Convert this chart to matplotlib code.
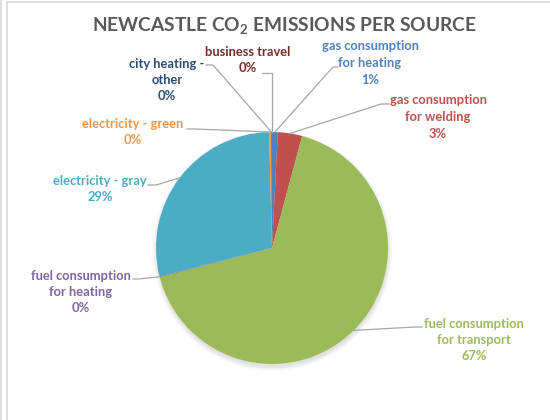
import numpy as np
import matplotlib
matplotlib.use("Agg")
import matplotlib.pyplot as plt
from matplotlib.patches import Circle

plt.rcParams['font.family'] = ['Lato', 'DejaVu Sans']
plt.rcParams['mathtext.fontset'] = 'custom'
plt.rcParams['mathtext.rm'] = 'Lato:bold'
plt.rcParams['mathtext.bf'] = 'Lato:bold'

# ---- data ----
categories = ["gas consumption\nfor heating", "gas consumption\nfor welding",
              "fuel consumption\nfor transport", "fuel consumption\nfor heating",
              "electricity - gray", "electricity - green",
              "city heating -\nother", "business travel"]
values = [0.8, 3.4, 66.9, 0.1, 28.6, 0.3, 0.05, 0.05]
colors = ["#4F81BD", "#C0504D", "#9BBB59", "#8064A2", "#4BACC6", "#F79646",
          "#2C4D75", "#772C2A"]
title = r"NEWCASTLE CO$_{\mathbf{2}}$ EMISSIONS PER SOURCE"

# ---- layout (pixel coords, origin top-left) ----
W, H = 550, 420
CX, CY, R = 272, 248, 116
label_pos = [(370, 63), (438, 117), (474, 340), (81, 292),
             (100, 189), (133, 132), (167, 80), (248, 60)]
# attachment point of leader near label (x, y) and length of short horizontal
leader_anchor = [(338, 67, -5), (389, 104, -8), (422, 327, -7), (133, 279, 5),
                 (148, 185, 8), (187, 129, 8), (206, 65, 7), (262, 73, 9)]

fig = plt.figure(figsize=(W / 100, H / 100), dpi=100)
ax = fig.add_axes([0, 0, 1, 1])
ax.set_xlim(0, W)
ax.set_ylim(0, H)
ax.axis('off')

def Y(y):
    return H - y

# frame lines
ax.plot([1, 1], [Y(0), Y(420)], color="#D9D9D9", lw=1.2)
ax.plot([7, 7], [Y(2), Y(420)], color="#D9D9D9", lw=1.2)
ax.plot([7, 550], [Y(2), Y(2)], color="#D9D9D9", lw=1.2)

# soft shadow
for i in range(10):
    ax.add_patch(Circle((CX + 0.5, Y(CY) - 3), R + 4 - i * 0.5,
                        facecolor="black", edgecolor="none", alpha=0.012, zorder=1))

wedges, _ = ax.pie(values, colors=colors, startangle=90, counterclock=False,
                   center=(CX, Y(CY)), radius=R, frame=False,
                   wedgeprops=dict(edgecolor="none", linewidth=0))
for w in wedges:
    w.set_zorder(3)
ax.set_xlim(0, W)
ax.set_ylim(0, H)
ax.set_aspect('auto')

total = sum(values)
for w, cat, val, col, (lx, ly), (ax_x, ax_y, dx) in zip(
        wedges, categories, values, colors, label_pos, leader_anchor):
    mid = np.deg2rad((w.theta1 + w.theta2) / 2)
    px = CX + R * np.cos(mid)
    py = Y(CY) + R * np.sin(mid)
    pct = f"{round(val / total * 100):d}%"
    ax.text(lx, Y(ly), f"{cat}\n{pct}", ha="center", va="center",
            color=col, fontsize=9.3, fontweight="bold", linespacing=1.45, zorder=5)
    xs = [ax_x, ax_x + dx, px]
    ys = [Y(ax_y), Y(ax_y), py]
    if cat == "business travel":
        xs = [ax_x, px, px]
    ax.plot(xs, ys, color="#A6A6A6", lw=0.9, zorder=4)

ax.text(284, Y(26), title, ha="center", va="center", color="#595959",
        fontsize=13.8, fontweight="bold")

fig.savefig("out.png", dpi=100)
